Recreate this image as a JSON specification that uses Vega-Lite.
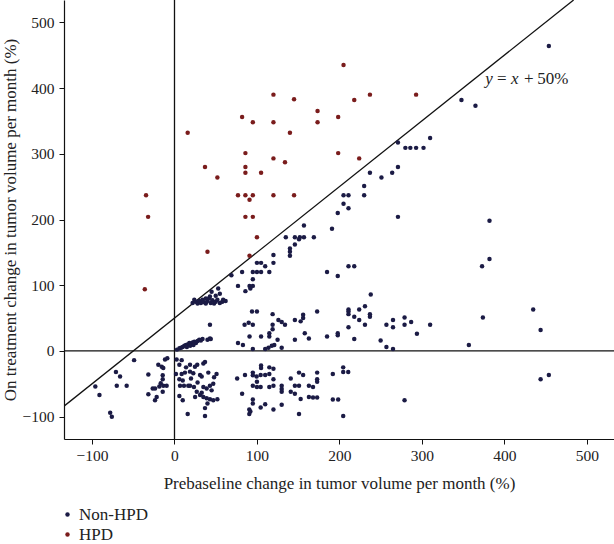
{
  "$schema": "https://vega.github.io/schema/vega-lite/v6.json",
  "width": 550,
  "height": 439,
  "autosize": {"type": "none"},
  "padding": {"left": 64, "top": 0, "right": 0, "bottom": 105},
  "background": "white",
  "config": {
    "view": {"stroke": null},
    "font": "Liberation Serif",
    "axis": {
      "grid": false,
      "domainColor": "#111",
      "domainWidth": 1.2,
      "tickColor": "#111",
      "tickSize": 5,
      "labelFont": "Liberation Serif",
      "labelFontSize": 15.5,
      "labelColor": "#222",
      "titleFont": "Liberation Serif",
      "titleFontSize": 17,
      "titleFontWeight": "normal",
      "titleColor": "#222"
    },
    "legend": {
      "labelFont": "Liberation Serif",
      "labelFontSize": 17,
      "labelColor": "#222",
      "padding": 0
    }
  },
  "datasets": {
    "pts": [
      {"px": 454, "py": 464, "g": "Non-HPD"}, {"px": 348, "py": 382, "g": "Non-HPD"}, {"px": 365, "py": 373, "g": "Non-HPD"},
      {"px": 310, "py": 324, "g": "Non-HPD"}, {"px": 271, "py": 317, "g": "Non-HPD"}, {"px": 280, "py": 309, "g": "Non-HPD"},
      {"px": 286, "py": 309, "g": "Non-HPD"}, {"px": 293, "py": 309, "g": "Non-HPD"}, {"px": 302, "py": 309, "g": "Non-HPD"},
      {"px": 271, "py": 280, "g": "Non-HPD"}, {"px": 264, "py": 271, "g": "Non-HPD"}, {"px": 251, "py": 264, "g": "Non-HPD"},
      {"px": 237, "py": 271, "g": "Non-HPD"}, {"px": 230, "py": 251, "g": "Non-HPD"}, {"px": 230, "py": 237, "g": "Non-HPD"},
      {"px": 205, "py": 237, "g": "Non-HPD"}, {"px": 211, "py": 237, "g": "Non-HPD"}, {"px": 205, "py": 224, "g": "Non-HPD"},
      {"px": 211, "py": 217, "g": "Non-HPD"}, {"px": 198, "py": 210, "g": "Non-HPD"}, {"px": 271, "py": 204, "g": "Non-HPD"},
      {"px": 382, "py": 198, "g": "Non-HPD"}, {"px": 157, "py": 191, "g": "Non-HPD"}, {"px": 191, "py": 186, "g": "Non-HPD"},
      {"px": 152, "py": 173, "g": "Non-HPD"}, {"px": 157, "py": 173, "g": "Non-HPD"}, {"px": 169, "py": 173, "g": "Non-HPD"},
      {"px": 185, "py": 120, "g": "Non-HPD"}, {"px": 198, "py": 114, "g": "Non-HPD"}, {"px": 211, "py": 129, "g": "Non-HPD"},
      {"px": 218, "py": 129, "g": "Non-HPD"}, {"px": 373, "py": 129, "g": "Non-HPD"}, {"px": 382, "py": 140, "g": "Non-HPD"},
      {"px": 135, "py": 173, "g": "Non-HPD"}, {"px": 146, "py": 173, "g": "Non-HPD"}, {"px": 151, "py": 170, "g": "Non-HPD"},
      {"px": 140, "py": 156, "g": "Non-HPD"}, {"px": 140, "py": 151, "g": "Non-HPD"}, {"px": 140, "py": 145, "g": "Non-HPD"},
      {"px": 146, "py": 162, "g": "Non-HPD"}, {"px": 120, "py": 146, "g": "Non-HPD"}, {"px": 120, "py": 134, "g": "Non-HPD"},
      {"px": 100, "py": 134, "g": "Non-HPD"}, {"px": 105, "py": 134, "g": "Non-HPD"}, {"px": 110, "py": 129, "g": "Non-HPD"},
      {"px": 82, "py": 120, "g": "Non-HPD"}, {"px": 95, "py": 120, "g": "Non-HPD"}, {"px": 100, "py": 120, "g": "Non-HPD"},
      {"px": 105, "py": 120, "g": "Non-HPD"}, {"px": 115, "py": 120, "g": "Non-HPD"}, {"px": 69, "py": 115, "g": "Non-HPD"},
      {"px": 95, "py": 109, "g": "Non-HPD"}, {"px": 77, "py": 99, "g": "Non-HPD"}, {"px": 91, "py": 99, "g": "Non-HPD"},
      {"px": 95, "py": 99, "g": "Non-HPD"}, {"px": 92, "py": 95, "g": "Non-HPD"}, {"px": 86, "py": 91, "g": "Non-HPD"},
      {"px": 22, "py": 73, "g": "Non-HPD"}, {"px": 24, "py": 78, "g": "Non-HPD"}, {"px": 26, "py": 75, "g": "Non-HPD"},
      {"px": 28, "py": 72, "g": "Non-HPD"}, {"px": 30, "py": 76, "g": "Non-HPD"}, {"px": 32, "py": 73, "g": "Non-HPD"},
      {"px": 34, "py": 78, "g": "Non-HPD"}, {"px": 36, "py": 74, "g": "Non-HPD"}, {"px": 38, "py": 72, "g": "Non-HPD"},
      {"px": 40, "py": 76, "g": "Non-HPD"}, {"px": 42, "py": 80, "g": "Non-HPD"}, {"px": 44, "py": 73, "g": "Non-HPD"},
      {"px": 46, "py": 77, "g": "Non-HPD"}, {"px": 48, "py": 72, "g": "Non-HPD"}, {"px": 50, "py": 75, "g": "Non-HPD"},
      {"px": 52, "py": 78, "g": "Non-HPD"}, {"px": 55, "py": 73, "g": "Non-HPD"}, {"px": 58, "py": 75, "g": "Non-HPD"},
      {"px": 62, "py": 76, "g": "Non-HPD"}, {"px": 45, "py": 90, "g": "Non-HPD"}, {"px": 50, "py": 84, "g": "Non-HPD"},
      {"px": 53, "py": 95, "g": "Non-HPD"}, {"px": 55, "py": 87, "g": "Non-HPD"}, {"px": 59, "py": 78, "g": "Non-HPD"},
      {"px": 43, "py": 83, "g": "Non-HPD"}, {"px": 38, "py": 80, "g": "Non-HPD"},
      {"px": 94, "py": 60, "g": "Non-HPD"}, {"px": 100, "py": 60, "g": "Non-HPD"}, {"px": 85, "py": 40, "g": "Non-HPD"},
      {"px": 90, "py": 43, "g": "Non-HPD"}, {"px": 95, "py": 40, "g": "Non-HPD"}, {"px": 119, "py": 56, "g": "Non-HPD"},
      {"px": 126, "py": 47, "g": "Non-HPD"}, {"px": 130, "py": 44, "g": "Non-HPD"}, {"px": 134, "py": 40, "g": "Non-HPD"},
      {"px": 119, "py": 40, "g": "Non-HPD"}, {"px": 119, "py": 33, "g": "Non-HPD"}, {"px": 146, "py": 47, "g": "Non-HPD"},
      {"px": 153, "py": 45, "g": "Non-HPD"}, {"px": 156, "py": 50, "g": "Non-HPD"}, {"px": 156, "py": 55, "g": "Non-HPD"},
      {"px": 173, "py": 60, "g": "Non-HPD"}, {"px": 91, "py": 22, "g": "Non-HPD"}, {"px": 105, "py": 22, "g": "Non-HPD"},
      {"px": 115, "py": 22, "g": "Non-HPD"}, {"px": 115, "py": 27, "g": "Non-HPD"}, {"px": 77, "py": 12, "g": "Non-HPD"},
      {"px": 83, "py": 9, "g": "Non-HPD"}, {"px": 95, "py": 3, "g": "Non-HPD"}, {"px": 110, "py": 3, "g": "Non-HPD"},
      {"px": 114, "py": 5, "g": "Non-HPD"}, {"px": 118, "py": 8, "g": "Non-HPD"}, {"px": 121, "py": 9, "g": "Non-HPD"},
      {"px": 125, "py": 17, "g": "Non-HPD"}, {"px": 130, "py": 5, "g": "Non-HPD"}, {"px": 146, "py": 17, "g": "Non-HPD"},
      {"px": 158, "py": 27, "g": "Non-HPD"}, {"px": 163, "py": 19, "g": "Non-HPD"}, {"px": 185, "py": 22, "g": "Non-HPD"},
      {"px": 198, "py": 24, "g": "Non-HPD"}, {"px": 198, "py": 27, "g": "Non-HPD"}, {"px": 43, "py": 40, "g": "Non-HPD"},
      {"px": 238, "py": 86, "g": "Non-HPD"}, {"px": 211, "py": 63, "g": "Non-HPD"}, {"px": 211, "py": 60, "g": "Non-HPD"},
      {"px": 211, "py": 56, "g": "Non-HPD"}, {"px": 224, "py": 63, "g": "Non-HPD"}, {"px": 231, "py": 68, "g": "Non-HPD"},
      {"px": 218, "py": 52, "g": "Non-HPD"}, {"px": 224, "py": 47, "g": "Non-HPD"}, {"px": 231, "py": 40, "g": "Non-HPD"},
      {"px": 237, "py": 56, "g": "Non-HPD"}, {"px": 237, "py": 52, "g": "Non-HPD"}, {"px": 211, "py": 36, "g": "Non-HPD"},
      {"px": 218, "py": 18, "g": "Non-HPD"}, {"px": 257, "py": 40, "g": "Non-HPD"}, {"px": 265, "py": 47, "g": "Non-HPD"},
      {"px": 265, "py": 36, "g": "Non-HPD"}, {"px": 250, "py": 16, "g": "Non-HPD"}, {"px": 257, "py": 6, "g": "Non-HPD"},
      {"px": 265, "py": 3, "g": "Non-HPD"}, {"px": 279, "py": 51, "g": "Non-HPD"}, {"px": 279, "py": 40, "g": "Non-HPD"},
      {"px": 287, "py": 44, "g": "Non-HPD"}, {"px": 294, "py": 26, "g": "Non-HPD"}, {"px": 310, "py": 40, "g": "Non-HPD"},
      {"px": 435, "py": 63, "g": "Non-HPD"}, {"px": 374, "py": 51, "g": "Non-HPD"}, {"px": 444, "py": 32, "g": "Non-HPD"},
      {"px": 357, "py": 9, "g": "Non-HPD"},
      {"px": 3, "py": 2, "g": "Non-HPD"}, {"px": 6, "py": 4, "g": "Non-HPD"}, {"px": 8, "py": 5, "g": "Non-HPD"},
      {"px": 10, "py": 6, "g": "Non-HPD"}, {"px": 12, "py": 8, "g": "Non-HPD"}, {"px": 14, "py": 9, "g": "Non-HPD"},
      {"px": 16, "py": 10, "g": "Non-HPD"}, {"px": 18, "py": 12, "g": "Non-HPD"}, {"px": 20, "py": 11, "g": "Non-HPD"},
      {"px": 22, "py": 13, "g": "Non-HPD"}, {"px": 24, "py": 14, "g": "Non-HPD"}, {"px": 26, "py": 12, "g": "Non-HPD"},
      {"px": 28, "py": 15, "g": "Non-HPD"}, {"px": 30, "py": 17, "g": "Non-HPD"}, {"px": 32, "py": 16, "g": "Non-HPD"},
      {"px": 34, "py": 18, "g": "Non-HPD"}, {"px": 15, "py": 6, "g": "Non-HPD"}, {"px": 19, "py": 8, "g": "Non-HPD"},
      {"px": 23, "py": 9, "g": "Non-HPD"}, {"px": 40, "py": 17, "g": "Non-HPD"}, {"px": 43, "py": 19, "g": "Non-HPD"},
      {"px": 44, "py": 18, "g": "Non-HPD"},
      {"px": -11.5, "py": -13, "g": "Non-HPD"}, {"px": -8.7, "py": -11, "g": "Non-HPD"}, {"px": -19.6, "py": -21, "g": "Non-HPD"},
      {"px": -15.5, "py": -24, "g": "Non-HPD"}, {"px": -13.6, "py": -26, "g": "Non-HPD"}, {"px": -31.7, "py": -36, "g": "Non-HPD"},
      {"px": -14.3, "py": -37, "g": "Non-HPD"}, {"px": -14.3, "py": -43, "g": "Non-HPD"}, {"px": -16.7, "py": -49, "g": "Non-HPD"},
      {"px": -13.6, "py": -53, "g": "Non-HPD"}, {"px": -18.4, "py": -54, "g": "Non-HPD"}, {"px": -9.5, "py": -53, "g": "Non-HPD"},
      {"px": -26.4, "py": -57, "g": "Non-HPD"}, {"px": -23.6, "py": -57, "g": "Non-HPD"}, {"px": -14.3, "py": -62, "g": "Non-HPD"},
      {"px": -31.7, "py": -66, "g": "Non-HPD"}, {"px": -21.6, "py": -70, "g": "Non-HPD"}, {"px": -23.6, "py": -75, "g": "Non-HPD"},
      {"px": -96, "py": -54, "g": "Non-HPD"}, {"px": -91, "py": -67, "g": "Non-HPD"}, {"px": -78, "py": -94, "g": "Non-HPD"},
      {"px": -76, "py": -100, "g": "Non-HPD"}, {"px": -71, "py": -32, "g": "Non-HPD"}, {"px": -66, "py": -39, "g": "Non-HPD"},
      {"px": -70, "py": -53, "g": "Non-HPD"}, {"px": -58, "py": -53, "g": "Non-HPD"}, {"px": -49, "py": -14, "g": "Non-HPD"},
      {"px": 2.6, "py": -13, "g": "Non-HPD"}, {"px": 8.7, "py": -14, "g": "Non-HPD"}, {"px": 5.9, "py": -21, "g": "Non-HPD"},
      {"px": 18.8, "py": -21, "g": "Non-HPD"}, {"px": 24.8, "py": -24, "g": "Non-HPD"}, {"px": 27.6, "py": -21, "g": "Non-HPD"},
      {"px": 35, "py": -19, "g": "Non-HPD"}, {"px": 37, "py": -17, "g": "Non-HPD"}, {"px": 1.8, "py": -35, "g": "Non-HPD"},
      {"px": 8.7, "py": -35, "g": "Non-HPD"}, {"px": 12.7, "py": -33, "g": "Non-HPD"}, {"px": 18.8, "py": -31.5, "g": "Non-HPD"},
      {"px": 22.8, "py": -34, "g": "Non-HPD"}, {"px": 31, "py": -36.5, "g": "Non-HPD"}, {"px": 33, "py": -39, "g": "Non-HPD"},
      {"px": 41, "py": -33, "g": "Non-HPD"}, {"px": 51, "py": -35, "g": "Non-HPD"}, {"px": 5.9, "py": -43, "g": "Non-HPD"},
      {"px": 10, "py": -45, "g": "Non-HPD"}, {"px": 6.7, "py": -53, "g": "Non-HPD"}, {"px": 11.5, "py": -53, "g": "Non-HPD"},
      {"px": 16.7, "py": -53, "g": "Non-HPD"}, {"px": 18.8, "py": -53, "g": "Non-HPD"}, {"px": 23.6, "py": -55, "g": "Non-HPD"},
      {"px": 27, "py": -62, "g": "Non-HPD"}, {"px": 33, "py": -63.5, "g": "Non-HPD"}, {"px": 39, "py": -57, "g": "Non-HPD"},
      {"px": 43, "py": -53, "g": "Non-HPD"}, {"px": 47, "py": -50, "g": "Non-HPD"}, {"px": 5.9, "py": -68.5, "g": "Non-HPD"},
      {"px": 10, "py": -75, "g": "Non-HPD"}, {"px": 31, "py": -67, "g": "Non-HPD"}, {"px": 35, "py": -70, "g": "Non-HPD"},
      {"px": 39, "py": -72, "g": "Non-HPD"}, {"px": 43, "py": -73.5, "g": "Non-HPD"}, {"px": 47, "py": -75, "g": "Non-HPD"},
      {"px": 52, "py": -73.5, "g": "Non-HPD"}, {"px": 37, "py": -87, "g": "Non-HPD"}, {"px": 37, "py": -99, "g": "Non-HPD"},
      {"px": 16, "py": -96, "g": "Non-HPD"}, {"px": 14, "py": -25, "g": "Non-HPD"}, {"px": 20, "py": -42, "g": "Non-HPD"},
      {"px": 28, "py": -48, "g": "Non-HPD"}, {"px": 45, "py": -60, "g": "Non-HPD"}, {"px": 25, "py": -70, "g": "Non-HPD"},
      {"px": 40, "py": -80, "g": "Non-HPD"}, {"px": 48, "py": -40, "g": "Non-HPD"}, {"px": 35, "py": -55, "g": "Non-HPD"},
      {"px": 76, "py": -42, "g": "Non-HPD"}, {"px": 85.5, "py": -36.5, "g": "Non-HPD"}, {"px": 95, "py": -33, "g": "Non-HPD"},
      {"px": 95, "py": -37, "g": "Non-HPD"}, {"px": 99.6, "py": -39, "g": "Non-HPD"}, {"px": 104.5, "py": -36.5, "g": "Non-HPD"},
      {"px": 110, "py": -36.5, "g": "Non-HPD"}, {"px": 115, "py": -35, "g": "Non-HPD"}, {"px": 105, "py": -22, "g": "Non-HPD"},
      {"px": 105, "py": -26, "g": "Non-HPD"}, {"px": 115, "py": -25, "g": "Non-HPD"}, {"px": 120, "py": -27, "g": "Non-HPD"},
      {"px": 120, "py": -43, "g": "Non-HPD"}, {"px": 95, "py": -53, "g": "Non-HPD"}, {"px": 100, "py": -55, "g": "Non-HPD"},
      {"px": 104.5, "py": -55, "g": "Non-HPD"}, {"px": 115, "py": -55, "g": "Non-HPD"}, {"px": 120, "py": -53, "g": "Non-HPD"},
      {"px": 82, "py": -65, "g": "Non-HPD"}, {"px": 95, "py": -74, "g": "Non-HPD"}, {"px": 95, "py": -80, "g": "Non-HPD"},
      {"px": 90.7, "py": -89, "g": "Non-HPD"}, {"px": 92, "py": -92, "g": "Non-HPD"}, {"px": 90.7, "py": -96, "g": "Non-HPD"},
      {"px": 104.5, "py": -86, "g": "Non-HPD"}, {"px": 110, "py": -81, "g": "Non-HPD"}, {"px": 120, "py": -89, "g": "Non-HPD"},
      {"px": 130, "py": -53, "g": "Non-HPD"}, {"px": 130, "py": -58, "g": "Non-HPD"}, {"px": 130, "py": -62, "g": "Non-HPD"},
      {"px": 130, "py": -82, "g": "Non-HPD"}, {"px": 141, "py": -42, "g": "Non-HPD"}, {"px": 141, "py": -62, "g": "Non-HPD"},
      {"px": 146, "py": -65, "g": "Non-HPD"}, {"px": 146, "py": -53, "g": "Non-HPD"}, {"px": 151, "py": -33, "g": "Non-HPD"},
      {"px": 156, "py": -36.5, "g": "Non-HPD"}, {"px": 151, "py": -53, "g": "Non-HPD"}, {"px": 153, "py": -73, "g": "Non-HPD"},
      {"px": 151, "py": -96, "g": "Non-HPD"}, {"px": 163, "py": -53, "g": "Non-HPD"}, {"px": 168, "py": -55, "g": "Non-HPD"},
      {"px": 163, "py": -70, "g": "Non-HPD"}, {"px": 168, "py": -71, "g": "Non-HPD"}, {"px": 173, "py": -71, "g": "Non-HPD"},
      {"px": 173, "py": -33, "g": "Non-HPD"}, {"px": 173, "py": -43, "g": "Non-HPD"}, {"px": 173, "py": -47, "g": "Non-HPD"},
      {"px": 192, "py": -35, "g": "Non-HPD"}, {"px": 192, "py": -74, "g": "Non-HPD"}, {"px": 198.5, "py": -74, "g": "Non-HPD"},
      {"px": 204.6, "py": -25, "g": "Non-HPD"}, {"px": 204.6, "py": -32, "g": "Non-HPD"}, {"px": 210.7, "py": -32, "g": "Non-HPD"},
      {"px": 204.6, "py": -99, "g": "Non-HPD"}, {"px": 279, "py": -75, "g": "Non-HPD"}, {"px": 444, "py": -43, "g": "Non-HPD"},
      {"px": 454, "py": -36.5, "g": "Non-HPD"}, {"px": 100, "py": -47, "g": "Non-HPD"},
      {"px": -34.5, "py": 237, "g": "HPD"}, {"px": -32, "py": 204, "g": "HPD"}, {"px": -36, "py": 94, "g": "HPD"},
      {"px": 16, "py": 332, "g": "HPD"}, {"px": 37, "py": 280, "g": "HPD"}, {"px": 52, "py": 264, "g": "HPD"},
      {"px": 40, "py": 151, "g": "HPD"}, {"px": 82, "py": 356, "g": "HPD"}, {"px": 95, "py": 348, "g": "HPD"},
      {"px": 86, "py": 301, "g": "HPD"}, {"px": 86, "py": 280, "g": "HPD"}, {"px": 86, "py": 271, "g": "HPD"},
      {"px": 105, "py": 271, "g": "HPD"}, {"px": 77, "py": 237, "g": "HPD"}, {"px": 86, "py": 237, "g": "HPD"},
      {"px": 95, "py": 237, "g": "HPD"}, {"px": 91, "py": 230, "g": "HPD"}, {"px": 86, "py": 204, "g": "HPD"},
      {"px": 95, "py": 204, "g": "HPD"}, {"px": 100, "py": 173, "g": "HPD"}, {"px": 91, "py": 145, "g": "HPD"},
      {"px": 120, "py": 390, "g": "HPD"}, {"px": 120, "py": 348, "g": "HPD"}, {"px": 120, "py": 293, "g": "HPD"},
      {"px": 120, "py": 237, "g": "HPD"}, {"px": 134, "py": 287, "g": "HPD"}, {"px": 140, "py": 332, "g": "HPD"},
      {"px": 145, "py": 383, "g": "HPD"}, {"px": 145, "py": 237, "g": "HPD"}, {"px": 205, "py": 435, "g": "HPD"},
      {"px": 173.5, "py": 365, "g": "HPD"}, {"px": 173.5, "py": 348, "g": "HPD"}, {"px": 198.5, "py": 356, "g": "HPD"},
      {"px": 218, "py": 382, "g": "HPD"}, {"px": 237, "py": 390, "g": "HPD"}, {"px": 293, "py": 390, "g": "HPD"},
      {"px": 198.5, "py": 301, "g": "HPD"}, {"px": 224, "py": 293, "g": "HPD"}
    ],
    "diag": [{"px": -134, "py": -84}, {"px": 484, "py": 534}],
    "vline": [{"px": 0}],
    "hline": [{"py": 0}],
    "lab_it": [{"t": "y", "px": 377, "py": 414}, {"t": "x", "px": 408, "py": 414}],
    "lab_rm": [{"t": "=", "px": 391, "py": 414}, {"t": "+", "px": 424, "py": 414}, {"t": "50%", "px": 440, "py": 414}]
  },
  "layer": [
    {
      "data": {"name": "diag"},
      "mark": {"type": "line", "color": "#111", "strokeWidth": 1.3, "clip": true},
      "encoding": {
        "x": {"field": "px", "type": "quantitative", "scale": {"domain": [-134, 533], "nice": false, "zero": false},
          "axis": {"values": [-100, 0, 100, 200, 300, 400, 500], "title": "Prebaseline change in tumor volume per month (%)", "titlePadding": 12, "labelPadding": 4}},
        "y": {"field": "py", "type": "quantitative", "scale": {"domain": [-134, 534], "nice": false, "zero": false},
          "axis": {"values": [-100, 0, 100, 200, 300, 400, 500], "title": "On treatment change in tumor volume per month (%)", "titlePadding": 3, "labelPadding": 5}}
      }
    },
    {
      "data": {"name": "vline"},
      "mark": {"type": "rule", "color": "#111", "strokeWidth": 1.3},
      "encoding": {"x": {"field": "px", "type": "quantitative"}}
    },
    {
      "data": {"name": "hline"},
      "mark": {"type": "rule", "color": "#111", "strokeWidth": 1.3},
      "encoding": {"y": {"field": "py", "type": "quantitative"}}
    },
    {
      "data": {"name": "pts"},
      "mark": {"type": "circle", "size": 20, "opacity": 1},
      "encoding": {
        "x": {"field": "px", "type": "quantitative"},
        "y": {"field": "py", "type": "quantitative"},
        "color": {"field": "g", "type": "nominal",
          "scale": {"domain": ["Non-HPD", "HPD"], "range": ["#1b1b45", "#7a1c1c"]},
          "legend": {"title": null, "orient": "none", "legendX": -5, "legendY": 506, "symbolSize": 20, "symbolType": "circle", "labelOffset": 3, "rowPadding": 2}}
      }
    },
    {
      "data": {"name": "lab_it"},
      "mark": {"type": "text", "font": "Liberation Serif", "fontSize": 17, "fontStyle": "italic", "align": "left", "color": "#222"},
      "encoding": {"x": {"field": "px", "type": "quantitative"}, "y": {"field": "py", "type": "quantitative"}, "text": {"field": "t"}}
    },
    {
      "data": {"name": "lab_rm"},
      "mark": {"type": "text", "font": "Liberation Serif", "fontSize": 17, "align": "left", "color": "#222"},
      "encoding": {"x": {"field": "px", "type": "quantitative"}, "y": {"field": "py", "type": "quantitative"}, "text": {"field": "t"}}
    }
  ]
}
